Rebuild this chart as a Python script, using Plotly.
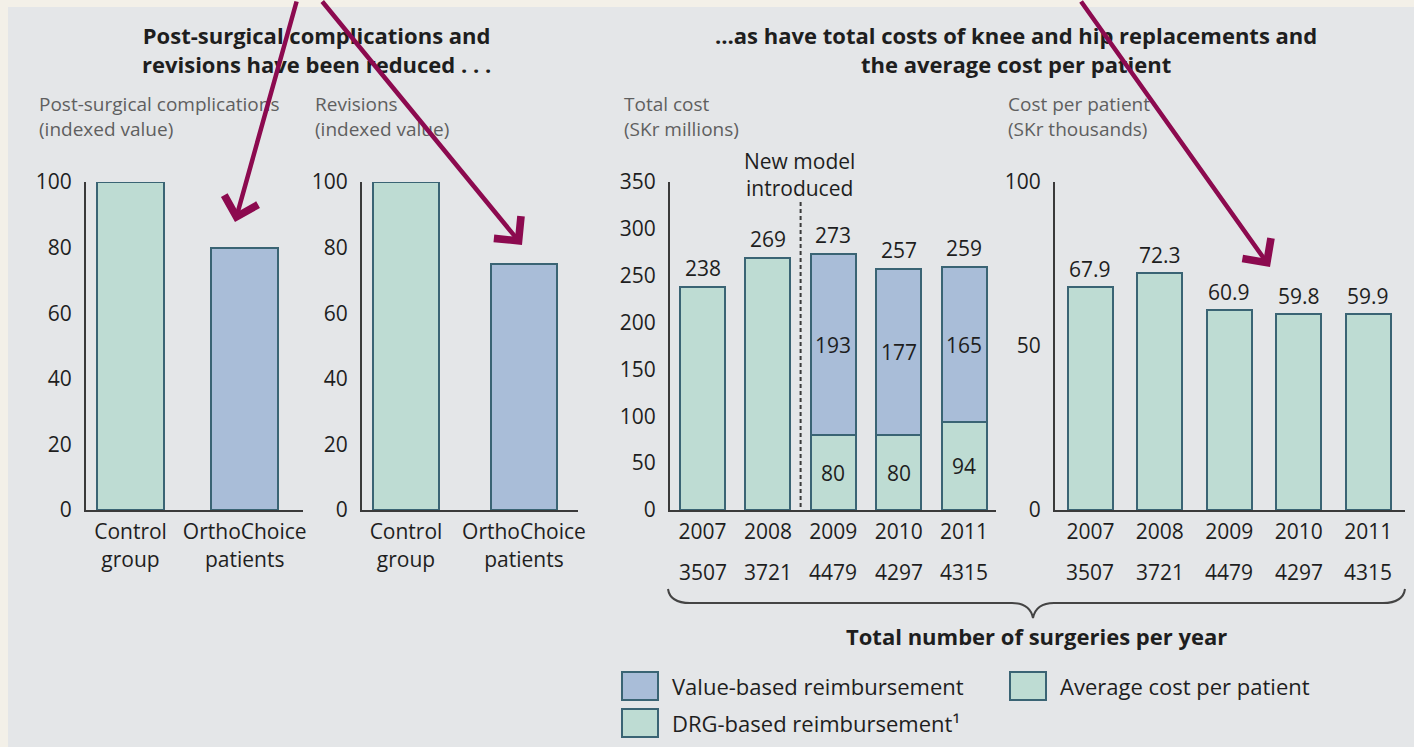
import plotly.graph_objects as go

W, H = 1414, 747


def px(x):
    return x / W


def py(y):
    return 1 - y / H


# ---------------- data ----------------
groups = ["Control<br>group", "OrthoChoice<br>patients"]
complications = [100, 80]
revisions = [100, 75]

years = ["2007", "2008", "2009", "2010", "2011"]
surgeries = [3507, 3721, 4479, 4297, 4315]
drg_based = [238, 269, 80, 80, 94]
value_based = [0, 0, 193, 177, 165]
cost_per_patient = [67.9, 72.3, 60.9, 59.8, 59.9]

# ---------------- style ----------------
FONT = "Open Sans"
GREEN = "#bedcd3"
BLUE = "#a9bdd8"
EDGE = "#3a6474"
AX = "#3a3a3a"
TXT = "#1e1e1e"
SUB = "#5f5f5f"
MAROON = "#8c0a4f"
BEIGE = "#f3f0e8"
PANEL = "#e4e6e8"
NUM = 21

fig = go.Figure()

line = dict(color=EDGE, width=2)
fig.add_bar(x=groups, y=complications, marker=dict(color=[GREEN, BLUE], line=line),
            width=0.588, xaxis="x", yaxis="y", hoverinfo="skip")
fig.add_bar(x=groups, y=revisions, marker=dict(color=[GREEN, BLUE], line=line),
            width=0.56, xaxis="x2", yaxis="y2", hoverinfo="skip")
fig.add_bar(x=years, y=drg_based, marker=dict(color=GREEN, line=line),
            width=0.688, xaxis="x3", yaxis="y3", hoverinfo="skip")
fig.add_bar(x=years, y=[v if v else None for v in value_based],
            marker=dict(color=BLUE, line=line),
            width=0.688, xaxis="x3", yaxis="y3", hoverinfo="skip")
fig.add_bar(x=years, y=cost_per_patient, marker=dict(color=GREEN, line=line),
            width=0.65, xaxis="x4", yaxis="y4", hoverinfo="skip")

ydom = [py(510), py(182)]


def xax(left, right, rng, anchor):
    return dict(domain=[px(left), px(right)], range=rng, type="category", anchor=anchor,
                showline=True, linecolor=AX, linewidth=2, ticks="", showgrid=False,
                zeroline=False, automargin=False,
                tickfont=dict(size=NUM, color=TXT, family=FONT), ticklabelstandoff=2,
                fixedrange=True)


def yax(anchor, top, dtick):
    return dict(domain=ydom, range=[0, top], dtick=dtick, showline=True, linecolor=AX,
                linewidth=2, ticks="", showgrid=False, zeroline=False, anchor=anchor,
                automargin=False,
                tickfont=dict(size=NUM, color=TXT, family=FONT), ticklabelstandoff=8,
                fixedrange=True)


ann = []


def text(x, y, t, size=20, color=TXT, xanchor="center", bold=False, **kw):
    if bold:
        t = "<b>" + t + "</b>"
    d = dict(x=x, y=y, xref="paper", yref="paper", text=t, showarrow=False,
             xanchor=xanchor, yanchor="middle", font=dict(size=size, color=color, family=FONT))
    d.update(kw)
    ann.append(d)


def label(x, y, t, xr, yr, shift=0):
    ann.append(dict(x=x, y=y, xref=xr, yref=yr, text=t, showarrow=False,
                    xanchor="center", yanchor="middle", yshift=shift,
                    font=dict(size=NUM, color=TXT, family=FONT)))


# titles
text(px(316), py(49), "Post-surgical complications and<br>revisions have been reduced . . .",
     size=22, bold=True)
text(px(1016), py(49), "\u2026as have total costs of knee and hip replacements and<br>"
     "the average cost per patient", size=22, bold=True)

# sub titles
for x0, t in [(37, "Post-surgical complications<br>(indexed value)"),
              (313, "Revisions<br>(indexed value)"),
              (622, "Total cost<br>(SKr millions)"),
              (1006, "Cost per patient<br>(SKr thousands)")]:
    text(px(x0), py(117), t, size=19, color=SUB, xanchor="left", align="left")

text(px(799), py(174), "New model<br>introduced", size=21)

# value labels (x given as category index)
totals = [d + v for d, v in zip(drg_based, value_based)]
for i, (tot, d, v) in enumerate(zip(totals, drg_based, value_based)):
    label(i, tot, str(tot), "x3", "y3", shift=19)
    if v:
        label(i, d + v / 2, str(v), "x3", "y3")
        label(i, d / 2, str(d), "x3", "y3")
for i, c in enumerate(cost_per_patient):
    label(i, c, f"{c:.1f}", "x4", "y4", shift=18)

# surgeries row
for xr in ["x3", "x4"]:
    for i, n in enumerate(surgeries):
        label(i, py(572), str(n), xr, "paper")

text(px(1036), py(636), "Total number of surgeries per year", size=22, bold=True)

# legend
legend_items = [(622, 686, BLUE, "Value-based reimbursement"),
                (622, 723, GREEN, "DRG-based reimbursement\u00b9"),
                (1010, 686, GREEN, "Average cost per patient")]
shapes = [dict(type="rect", xref="paper", yref="paper", x0=px(8), x1=1, y0=0, y1=py(7),
               fillcolor=PANEL, line=dict(width=0), layer="below")]
for x0, yc, col, lab in legend_items:
    shapes.append(dict(type="rect", xref="paper", yref="paper", x0=px(x0), x1=px(x0 + 36),
                       y0=py(yc + 14), y1=py(yc - 14), fillcolor=col,
                       line=dict(color=EDGE, width=2)))
    text(px(x0 + 48), py(yc), lab, size=22, xanchor="left")

# dashed separator
shapes.append(dict(type="line", xref="x3", yref="paper", x0=1.5, x1=1.5, y0=py(507), y1=py(202),
                   line=dict(color=AX, width=2, dash="4px,3px")))

# brace
pts = [(668, 589), (670, 603), (690, 603), (1012, 603), (1030, 603), (1033, 618),
       (1036, 603), (1054, 603), (1383, 603), (1403, 603), (1405, 589)]
P = [(px(a), py(b)) for a, b in pts]
path = (f"M {P[0][0]},{P[0][1]} Q {P[1][0]},{P[1][1]} {P[2][0]},{P[2][1]} "
        f"L {P[3][0]},{P[3][1]} Q {P[4][0]},{P[4][1]} {P[5][0]},{P[5][1]} "
        f"Q {P[6][0]},{P[6][1]} {P[7][0]},{P[7][1]} L {P[8][0]},{P[8][1]} "
        f"Q {P[9][0]},{P[9][1]} {P[10][0]},{P[10][1]}")
shapes.append(dict(type="path", xref="paper", yref="paper", path=path,
                   line=dict(color="#444444", width=2)))

# arrows
for (tx, ty), (sx, sy) in [((235, 222), (297, 0)), ((522, 245), (321, 0)), ((1270, 267), (1080, 0))]:
    ann.append(dict(x=px(tx), y=py(ty), xref="paper", yref="paper", text="", showarrow=True,
                    ax=sx - tx, ay=sy - ty, axref="pixel", ayref="pixel",
                    arrowhead=4, arrowsize=1.5, arrowwidth=4.5, arrowcolor=MAROON, standoff=0))

fig.update_layout(
    width=W, height=H, margin=dict(l=0, r=0, t=0, b=0, pad=0, autoexpand=False),
    paper_bgcolor=BEIGE, plot_bgcolor="rgba(0,0,0,0)",
    barmode="stack", showlegend=False,
    font=dict(family=FONT, color=TXT),
    xaxis=xax(86, 303, [-0.39, 1.51], "y"),
    yaxis=yax("x", 100, 20),
    xaxis2=xax(362, 578, [-0.373, 1.458], "y2"),
    yaxis2=yax("x2", 100, 20),
    xaxis3=xax(670, 996, [-0.497, 4.488], "y3"),
    yaxis3=yax("x3", 350, 50),
    xaxis4=xax(1055, 1405, [-0.51, 4.53], "y4"),
    yaxis4=yax("x4", 100, 50),
    annotations=ann, shapes=shapes,
)

fig.write_html(
    "out.html",
    config={"displayModeBar": False},
    post_script="document.body.style.margin='0';document.body.style.overflow='hidden';"
                "document.body.style.background='" + BEIGE + "';",
)
